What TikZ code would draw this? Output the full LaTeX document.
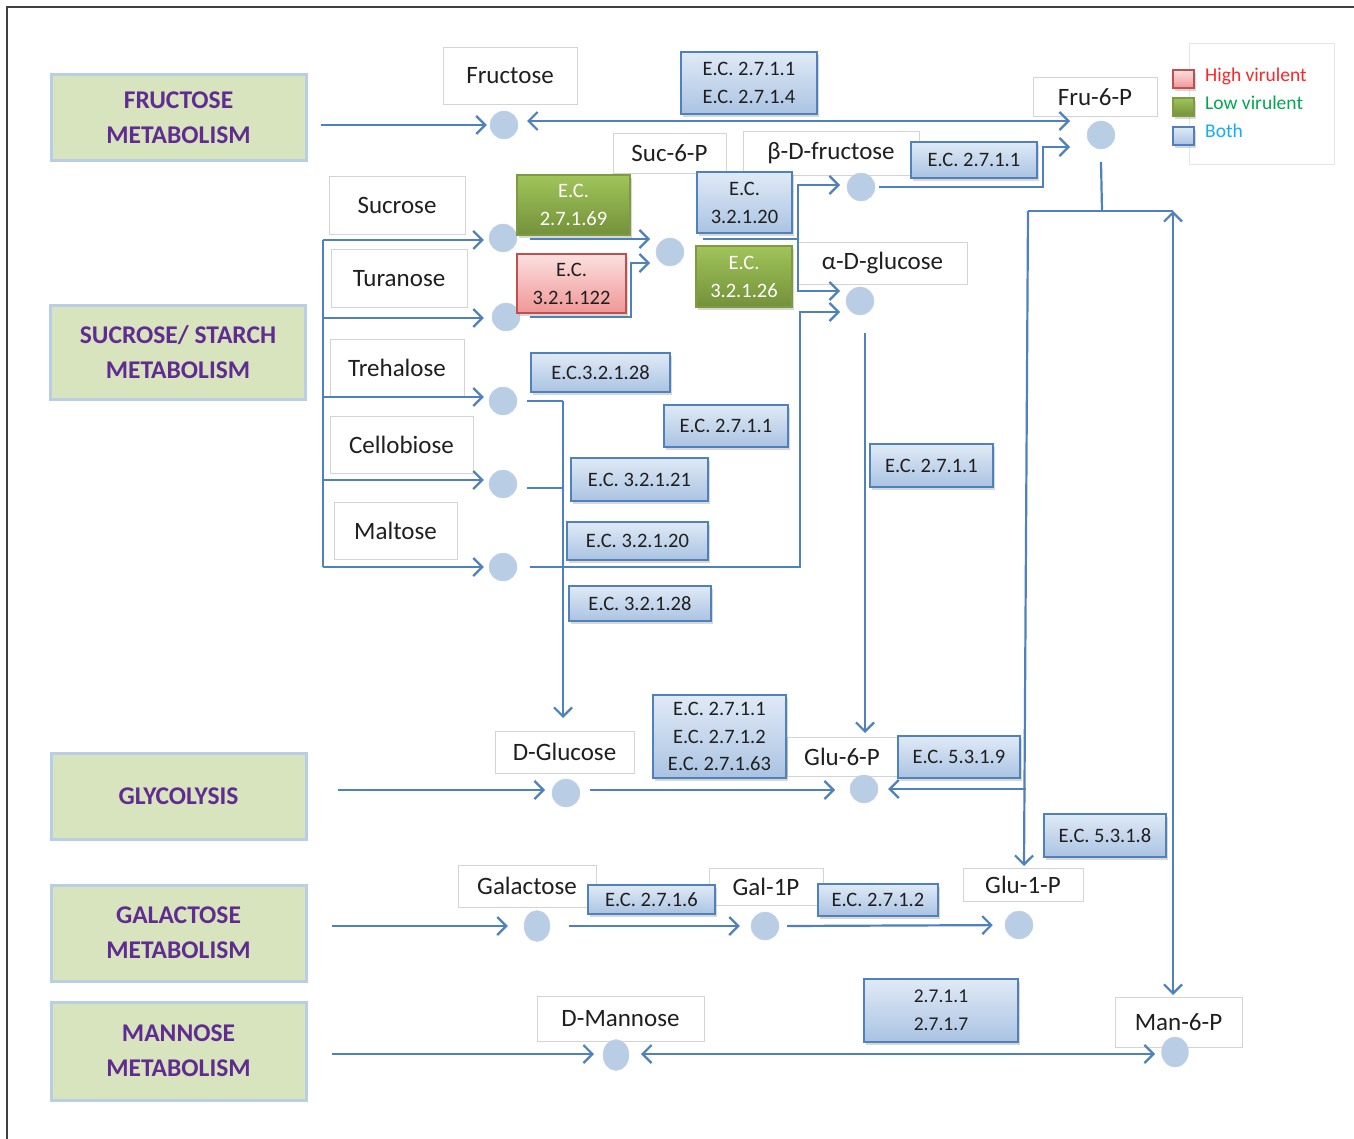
\documentclass[tikz,border=0pt]{standalone}
\usepackage{fontspec}
\setmainfont{Carlito}
\usetikzlibrary{arrows.meta,shadows,shapes.geometric}
\definecolor{lineblue}{RGB}{79,129,189}
\definecolor{dotblue}{RGB}{185,205,229}
\definecolor{ectop}{RGB}{224,234,246}
\definecolor{ecbot}{RGB}{170,195,226}
\definecolor{grtop}{RGB}{160,196,90}
\definecolor{grbot}{RGB}{116,145,58}
\definecolor{grbord}{RGB}{125,155,65}
\definecolor{rdtop}{RGB}{252,224,224}
\definecolor{rdbot}{RGB}{240,150,150}
\definecolor{rdbord}{RGB}{192,80,77}
\definecolor{catfill}{RGB}{215,228,189}
\definecolor{catbord}{RGB}{185,205,229}
\definecolor{catpurple}{RGB}{96,44,146}
\definecolor{metbord}{RGB}{212,212,212}
\definecolor{legred}{RGB}{250,40,40}
\definecolor{leggreen}{RGB}{0,168,80}
\definecolor{legblue}{RGB}{20,176,236}
\begin{document}
\begin{tikzpicture}[x=1pt,y=-1pt,
  catbox/.style={rectangle, draw=catbord, line width=3pt, fill=catfill, text=catpurple,
    font=\fontsize{25.5}{35}\selectfont\bfseries, align=center, inner sep=0pt},
  metbox/.style={rectangle, draw=metbord, line width=0.8pt, fill=white,
    font=\fontsize{25}{28}\selectfont, inner sep=0pt, text=black!88},
  ecbox/.style={rectangle, draw=lineblue, line width=1.6pt, top color=ectop, bottom color=ecbot,
    drop shadow={shadow xshift=1.5pt, shadow yshift=-3pt, opacity=0.3},
    font=\fontsize{20.5}{28}\selectfont, align=center, inner sep=0pt, text=black!88},
  ecgreen/.style={ecbox, draw=grbord, top color=grtop, bottom color=grbot, text=white},
  ecred/.style={ecbox, draw=rdbord, top color=rdtop, bottom color=rdbot},
  dot/.style={circle, fill=dotblue, draw=dotblue!85!white, inner sep=0pt, minimum size=28pt},
  doto/.style={ellipse, fill=dotblue, draw=dotblue!85!white, inner sep=0pt, minimum width=26pt, minimum height=31pt},
  conn/.style={draw=lineblue, line width=2.2pt},
  arr/.style={conn, -{Straight Barb[length=9pt,width=18pt]}},
  darr/.style={conn, {Straight Barb[length=9pt,width=18pt]}-{Straight Barb[length=9pt,width=18pt]}},
  legtext/.style={anchor=west, inner sep=0pt, font=\fontsize{19.5}{22}\selectfont}
]
\useasboundingbox (0,0) rectangle (1354,1139);
\fill[white] (0,0) rectangle (1354,1139);
% outer frame
\draw[line width=1.6pt, black!75] (7,1139) -- (7,7) -- (1354,7);

% legend
\node[draw=gray!20, line width=0.8pt, minimum width=145pt, minimum height=121pt, inner sep=0pt] (legbox) at (1262,103.5) {};
\node[ecred, minimum width=21pt, minimum height=18pt] (swR) at (1183.5,79) {};
\node[ecgreen, minimum width=21pt, minimum height=18pt] (swG) at (1183.5,107) {};
\node[ecbox, minimum width=21pt, minimum height=18pt] (swB) at (1183.5,136) {};
\node[legtext, text=legred] (lgR) at (1205,76) {High virulent};
\node[legtext, text=leggreen] (lgG) at (1205,103) {Low virulent};
\node[legtext, text=legblue] (lgB) at (1205,131) {Both};

% category boxes
\node[catbox, minimum width=255pt, minimum height=86pt] (catFru) at (178.5,117.5) {FRUCTOSE\\METABOLISM};
\node[catbox, minimum width=255pt, minimum height=93pt] (catSuc) at (178,352.5) {SUCROSE/ STARCH\\METABOLISM};
\node[catbox, minimum width=255pt, minimum height=86pt] (catGly) at (178.5,796) {GLYCOLYSIS};
\node[catbox, minimum width=255pt, minimum height=96pt] (catGal) at (178.5,933) {GALACTOSE\\METABOLISM};
\node[catbox, minimum width=255pt, minimum height=98pt] (catMan) at (178.5,1051) {MANNOSE\\METABOLISM};

% metabolite labels
\node[metbox, minimum width=134pt, minimum height=57pt] (mFru) at (510,75.5) {Fructose};
\node[metbox, minimum width=124pt, minimum height=39pt] (mF6P) at (1095,97) {Fru-6-P};
\node[metbox, minimum width=113pt, minimum height=40pt] (mS6P) at (669.5,153) {Suc-6-P};
\node[metbox, minimum width=176pt, minimum height=44pt] (mBfru) at (831,153) {β-D-fructose};
\node[metbox, minimum width=136pt, minimum height=58pt] (mSuc) at (397,205) {Sucrose};
\node[metbox, minimum width=136pt, minimum height=58pt] (mTur) at (399,278.5) {Turanose};
\node[metbox, minimum width=169pt, minimum height=42pt] (mAglc) at (882.5,263) {α-D-glucose};
\node[metbox, minimum width=134pt, minimum height=58pt] (mTre) at (397,368) {Trehalose};
\node[metbox, minimum width=143pt, minimum height=57pt] (mCel) at (401.5,444.5) {Cellobiose};
\node[metbox, minimum width=123pt, minimum height=57pt] (mMal) at (395.5,530.5) {Maltose};
\node[metbox, minimum width=139pt, minimum height=42pt] (mDGlc) at (564.5,752) {D-Glucose};
\node[metbox, minimum width=118pt, minimum height=39pt] (mG6P) at (846,756.5) {\hspace*{-8pt}Glu-6-P};
\node[metbox, minimum width=138pt, minimum height=42pt] (mGal) at (527,886) {Galactose};
\node[metbox, minimum width=114pt, minimum height=37pt] (mGal1P) at (766,886.5) {Gal-1P};
\node[metbox, minimum width=120pt, minimum height=33pt] (mG1P) at (1023,885) {Glu-1-P};
\node[metbox, minimum width=167pt, minimum height=45pt] (mDMan) at (620.5,1018.5) {D-Mannose};
\node[metbox, minimum width=127pt, minimum height=50pt] (mM6P) at (1178.5,1022) {Man-6-P};

% circles
\node[dot] (cFru) at (504,125) {};
\node[dot] (cF6P) at (1101,135) {};
\node[dot] (cBfru) at (861,187) {};
\node[dot] (cSuc) at (503,238) {};
\node[dot] (cS6P) at (670,252) {};
\node[dot] (cTur) at (506,317) {};
\node[dot] (cAglc) at (860,301) {};
\node[dot] (cTre) at (503,401) {};
\node[dot] (cCel) at (503,484) {};
\node[dot] (cMal) at (503,567) {};
\node[dot] (cDGlc) at (566,793) {};
\node[dot] (cG6P) at (864,789) {};
\node[doto] (cGal) at (537,926) {};
\node[dot] (cGal1P) at (765,926) {};
\node[dot] (cG1P) at (1019,925) {};
\node[doto] (cDMan) at (616,1055) {};
\node[doto, minimum width=27pt, minimum height=30pt] (cM6P) at (1175,1052) {};

% named coordinates for connector bends and free ends
\coordinate (fmA) at (321,125);
\coordinate (b1L) at (527,121);
\coordinate (b1R) at (1070,121);
\coordinate (bfK) at (1043,147);
\coordinate (b2R) at (1070,147);
\coordinate (f6J) at (1102,211);
\coordinate (jL) at (1028,211);
\coordinate (jR) at (1173,211);
\coordinate (g1T) at (1024,866);
\coordinate (jG) at (1025.5,789);
\coordinate (m6T) at (1173,995);
\coordinate (br1) at (323,240);
\coordinate (br2) at (323,318);
\coordinate (br3) at (323,397);
\coordinate (br4) at (323,480);
\coordinate (br5) at (323,567);
\coordinate (suB) at (650,239);
\coordinate (tuK) at (631,263);
\coordinate (tuB) at (650,263);
\coordinate (s6J) at (798,239);
\coordinate (bfIn) at (840,185);
\coordinate (agIn1) at (840,291);
\coordinate (maK) at (800,312);
\coordinate (agIn2) at (840,312);
\coordinate (trK) at (563,401);
\coordinate (ceK) at (563,488);
\coordinate (dgIn) at (563,718);
\coordinate (g6In) at (865,733);
\coordinate (glA) at (338,790);
\coordinate (glB) at (545,790);
\coordinate (dgA) at (590,790);
\coordinate (dgB) at (835,790);
\coordinate (gaA) at (332,926);
\coordinate (mnA) at (332,1054);
\coordinate (mnB) at (594,1054);
\coordinate (mnL) at (641,1054);
\coordinate (mnR) at (1155,1054);

% connectors
\draw[arr, shorten >=3pt] (fmA) -- (cFru);
\draw[darr] (b1L) -- (b1R);
\draw[arr] ([xshift=4pt]cBfru.east) -| (bfK) -- (b2R);
\draw[conn] ([yshift=-13pt]cF6P.south) -- (f6J);
\draw[conn] (jL) -- (jR);
\draw[arr] (jL) -- (g1T);
\draw[arr, shorten >=10pt] (jG) -- (cG6P);
\draw[darr] (jR) -- (m6T);
% sucrose / starch bracket
\draw[conn] (br1) -- (br5);
\draw[arr, shorten >=5pt] (br1) -- (br1 -| cSuc.west);
\draw[arr, shorten >=8pt] (br2) -- (br2 -| cTur.west);
\draw[arr, shorten >=5pt] (br3) -- (br3 -| cTre.west);
\draw[arr, shorten >=5pt] (br4) -- (br4 -| cCel.west);
\draw[arr, shorten >=5pt] (br5) -- (br5 -| cMal.west);
% sucrose and turanose to Suc-6-P
\draw[arr] ([xshift=13pt]cSuc.east |- suB) -- (suB);
\draw[arr] ([xshift=10pt]cTur.east) -| (tuK) -- (tuB);
% Suc-6-P split
\draw[conn] ([xshift=19pt]cS6P.east |- s6J) -- (s6J);
\draw[arr] (s6J) |- (bfIn);
\draw[arr] (s6J) |- (agIn1);
% maltose to alpha-D-glucose
\draw[arr] ([xshift=13pt]cMal.east) -| (maK) -- (agIn2);
% trehalose / cellobiose to D-Glucose
\draw[conn] ([xshift=10pt]cTre.east) -- (trK);
\draw[conn] ([xshift=10pt]cCel.east |- ceK) -- (ceK);
\draw[arr] (trK) -- (dgIn);
% alpha-D-glucose to Glu-6-P
\draw[arr] ([yshift=-18pt]cAglc.south -| g6In) -- (g6In);
% glycolysis
\draw[arr] (glA) -- (glB);
\draw[arr] (dgA) -- (dgB);
% galactose
\draw[arr, shorten >=16pt] (gaA) -- (cGal);
\draw[arr, shorten >=11pt] ([xshift=19pt]cGal.east) -- (cGal1P);
\draw[arr, shorten >=12pt] ([xshift=8pt]cGal1P.east) -- (cG1P);
% mannose
\draw[arr] (mnA) -- (mnB);
\draw[darr] (mnL) -- (mnR);

% enzyme boxes
\node[ecbox, minimum width=136pt, minimum height=62pt] (e1) at (749,83) {E.C. 2.7.1.1\\E.C. 2.7.1.4};
\node[ecbox, minimum width=126pt, minimum height=36pt] (e2) at (974,160) {E.C. 2.7.1.1};
\node[ecgreen, minimum width=113pt, minimum height=60pt] (e3) at (573.5,205) {E.C.\\2.7.1.69};
\node[ecbox, minimum width=95pt, minimum height=61pt] (e4) at (744.5,202.5) {E.C.\\3.2.1.20};
\node[ecred, minimum width=109pt, minimum height=59pt] (e5) at (571.5,283.5) {E.C.\\3.2.1.122};
\node[ecgreen, minimum width=96pt, minimum height=61pt] (e6) at (744,276.5) {E.C.\\3.2.1.26};
\node[ecbox, minimum width=139pt, minimum height=39pt] (e7) at (600.5,372.5) {E.C.3.2.1.28};
\node[ecbox, minimum width=124pt, minimum height=42pt] (e8) at (726,426) {E.C. 2.7.1.1};
\node[ecbox, minimum width=137pt, minimum height=43pt] (e9) at (639.5,479.5) {E.C. 3.2.1.21};
\node[ecbox, minimum width=141pt, minimum height=38pt] (e10) at (637.5,541) {E.C. 3.2.1.20};
\node[ecbox, minimum width=142pt, minimum height=35pt] (e11) at (640,603.5) {E.C. 3.2.1.28};
\node[ecbox, minimum width=123pt, minimum height=43pt] (e12) at (931.5,465.5) {E.C. 2.7.1.1};
\node[ecbox, minimum width=133pt, minimum height=83pt, font=\fontsize{20.5}{27.5}\selectfont] (e13) at (719.5,736.5) {E.C. 2.7.1.1\\E.C. 2.7.1.2\\E.C. 2.7.1.63};
\node[ecbox, minimum width=122pt, minimum height=42pt] (e14) at (959,757) {E.C. 5.3.1.9};
\node[ecbox, minimum width=122pt, minimum height=43pt] (e15) at (1105,835.5) {E.C. 5.3.1.8};
\node[ecbox, minimum width=127pt, minimum height=29pt] (e16) at (651.5,899.5) {E.C. 2.7.1.6};
\node[ecbox, minimum width=120pt, minimum height=32pt] (e17) at (878,900) {E.C. 2.7.1.2};
\node[ecbox, minimum width=154pt, minimum height=63pt, font=\fontsize{19.5}{28}\selectfont] (e18) at (941,1010.5) {2.7.1.1\\2.7.1.7};
\end{tikzpicture}
\end{document}
